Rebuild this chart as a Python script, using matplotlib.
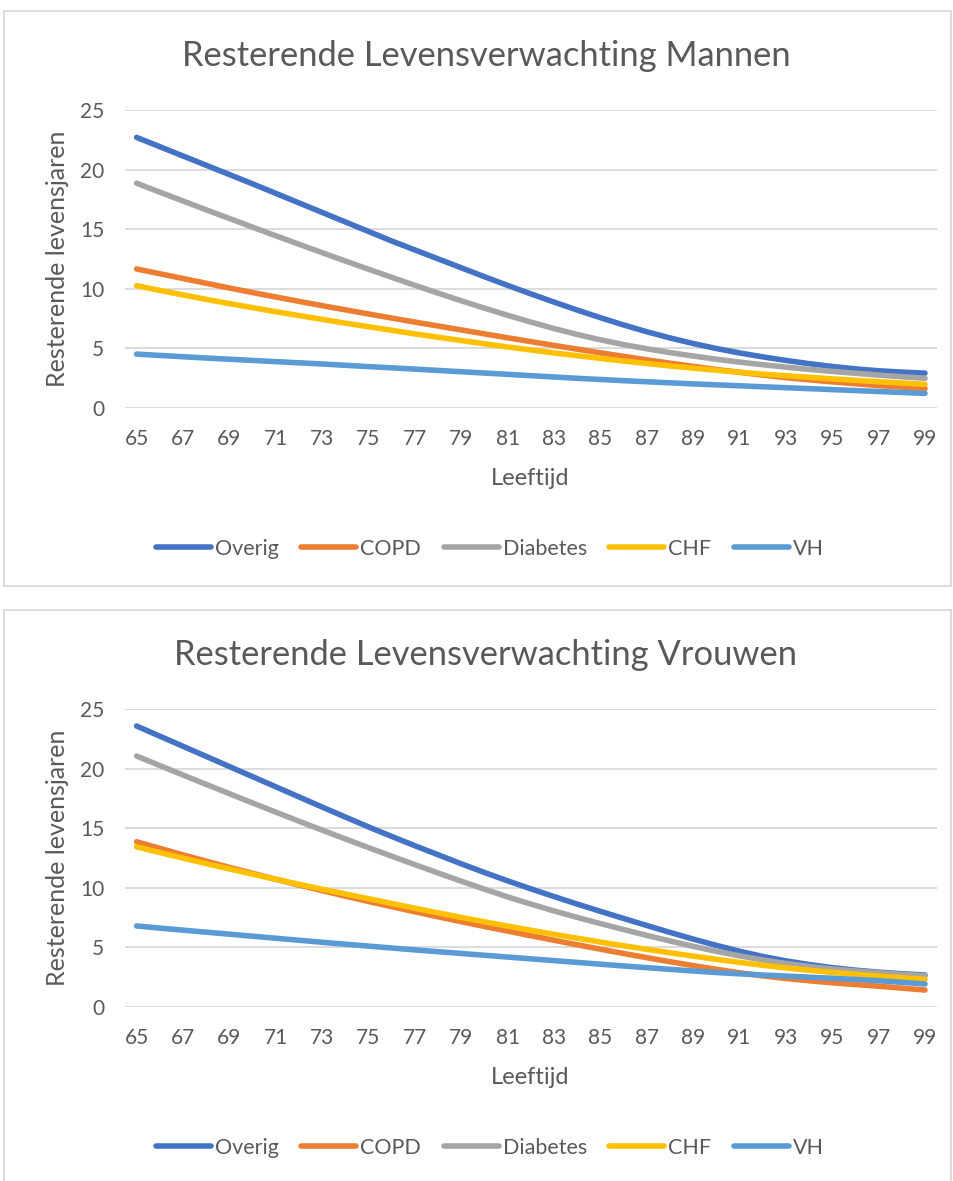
import matplotlib
matplotlib.use("Agg")
import matplotlib.pyplot as plt
from matplotlib.patches import Rectangle

plt.rcParams['font.family'] = ['Lato', 'DejaVu Sans']

# leeftijden 65..99
ages = list(range(65, 100))
series_names = ['Overig', 'COPD', 'Diabetes', 'CHF', 'VH']
series_colors = ['#4472C4', '#ED7D31', '#A5A5A5', '#FFC000', '#5B9BD5']

# Mannen
men_overig = [22.7, 21.92, 21.14, 20.36, 19.58, 18.8, 18.0, 17.2, 16.4, 15.6,
              14.8, 14.0, 13.25, 12.5, 11.75, 11.0, 10.27, 9.56, 8.87, 8.2,
              7.56, 6.95, 6.38, 5.86, 5.39, 4.97, 4.6, 4.27, 3.97, 3.7,
              3.46, 3.26, 3.1, 2.99, 2.9]
men_copd = [11.65, 11.25, 10.85, 10.45, 10.05, 9.67, 9.3, 8.93, 8.57, 8.22,
            7.87, 7.53, 7.19, 6.86, 6.53, 6.2, 5.87, 5.55, 5.23, 4.92,
            4.61, 4.31, 4.02, 3.74, 3.47, 3.21, 2.97, 2.74, 2.53, 2.34,
            2.17, 2.01, 1.86, 1.73, 1.6]
men_diabetes = [18.85, 18.1, 17.36, 16.62, 15.89, 15.16, 14.44, 13.73, 13.02, 12.32,
                11.63, 10.95, 10.28, 9.62, 8.98, 8.36, 7.76, 7.19, 6.65, 6.15,
                5.7, 5.3, 4.95, 4.63, 4.34, 4.07, 3.83, 3.61, 3.41, 3.22,
                3.05, 2.89, 2.74, 2.6, 2.47]
men_chf = [10.25, 9.85, 9.47, 9.1, 8.74, 8.4, 8.06, 7.74, 7.42, 7.1,
           6.8, 6.5, 6.2, 5.92, 5.64, 5.37, 5.1, 4.85, 4.6, 4.37,
           4.14, 3.92, 3.71, 3.51, 3.32, 3.15, 2.98, 2.82, 2.68, 2.55,
           2.42, 2.3, 2.18, 2.07, 1.96]
men_vh = [4.5, 4.39, 4.28, 4.17, 4.07, 3.97, 3.87, 3.77, 3.67, 3.56,
          3.45, 3.35, 3.24, 3.13, 3.02, 2.91, 2.8, 2.69, 2.58, 2.47,
          2.37, 2.27, 2.18, 2.09, 2.0, 1.92, 1.84, 1.76, 1.68, 1.6,
          1.52, 1.44, 1.36, 1.28, 1.2]

# Vrouwen
women_overig = [23.57, 22.72, 21.87, 21.02, 20.17, 19.32, 18.47, 17.62, 16.77, 15.93,
                15.1, 14.3, 13.52, 12.76, 12.0, 11.27, 10.57, 9.9, 9.25, 8.62,
                8.01, 7.41, 6.82, 6.24, 5.68, 5.15, 4.66, 4.22, 3.85, 3.54,
                3.28, 3.07, 2.9, 2.77, 2.66]
women_copd = [13.85, 13.3, 12.75, 12.22, 11.7, 11.2, 10.7, 10.22, 9.75, 9.29,
              8.84, 8.4, 7.97, 7.55, 7.14, 6.74, 6.35, 5.96, 5.58, 5.2,
              4.83, 4.47, 4.12, 3.78, 3.45, 3.14, 2.85, 2.59, 2.37, 2.18,
              2.01, 1.86, 1.72, 1.56, 1.4]
women_diabetes = [21.05, 20.25, 19.46, 18.67, 17.89, 17.11, 16.34, 15.58, 14.83, 14.09,
                  13.36, 12.64, 11.93, 11.23, 10.54, 9.87, 9.22, 8.62, 8.04, 7.5,
                  6.98, 6.48, 5.99, 5.52, 5.07, 4.65, 4.27, 3.93, 3.63, 3.38,
                  3.17, 3.0, 2.85, 2.72, 2.6]
women_chf = [13.43, 12.95, 12.48, 12.02, 11.57, 11.13, 10.7, 10.28, 9.87, 9.47,
             9.07, 8.67, 8.27, 7.88, 7.5, 7.13, 6.77, 6.42, 6.08, 5.75,
             5.43, 5.12, 4.82, 4.53, 4.25, 3.98, 3.72, 3.48, 3.26, 3.06,
             2.88, 2.72, 2.57, 2.43, 2.3]
women_vh = [6.78, 6.6, 6.43, 6.26, 6.09, 5.92, 5.75, 5.58, 5.41, 5.25,
            5.09, 4.93, 4.77, 4.62, 4.47, 4.32, 4.17, 4.02, 3.87, 3.72,
            3.57, 3.42, 3.28, 3.14, 3.0, 2.87, 2.76, 2.66, 2.57, 2.48,
            2.39, 2.29, 2.18, 2.05, 1.91]

W, H = 954, 1181
TEXT = '#595959'
GRID = '#D9D9D9'


def draw_panel(fig, offset, title, data):
    """Draw one Excel-like line chart panel, offset in pixels from the top"""
    # panel border
    top, bottom = 11 + offset, (586 if offset == 0 else 1195)
    fig.patches.append(Rectangle((4 / W, 1 - bottom / H), 947 / W, (bottom - top) / H,
                                 transform=fig.transFigure, fill=False,
                                 edgecolor=GRID, linewidth=1.3))

    ax_top, ax_bot = 110 + offset, 407.7 + offset
    ax = fig.add_axes([125 / W, 1 - ax_bot / H, 811.6 / W, (ax_bot - ax_top) / H])
    for name, color, vals in zip(series_names, series_colors, data):
        ax.plot(ages, vals, color=color, linewidth=4, label=name,
                solid_capstyle='round')

    ax.set_xlim(64.5, 99.5)
    ax.set_ylim(0, 25)
    ax.set_yticks([0, 5, 10, 15, 20, 25])
    ax.set_xticks(ages[::2])
    ax.grid(axis='y', color=GRID, linewidth=1.3)
    ax.set_axisbelow(True)
    for s in ax.spines.values():
        s.set_visible(False)
    ax.tick_params(axis='both', length=0, labelsize=15, labelcolor=TEXT)
    ax.tick_params(axis='x', pad=15)
    ax.tick_params(axis='y', pad=15)

    fig.text(486 / W, 1 - (56 + offset) / H, title, ha='center', va='center',
             fontsize=24.8, color=TEXT)
    fig.text(58 / W, 1 - (259 + offset) / H, 'Resterende levensjaren', rotation=90,
             ha='center', va='center', fontsize=18, color=TEXT)
    fig.text(530 / W, 1 - (478 + offset) / H, 'Leeftijd', ha='center', va='center',
             fontsize=17, color=TEXT)

    leg = fig.legend(*ax.get_legend_handles_labels(), loc='center',
                     bbox_to_anchor=(490 / W, 1 - (549 + offset) / H), ncol=5,
                     frameon=False, fontsize=15.5, handlelength=2.55,
                     handletextpad=0.19, columnspacing=1.05, borderaxespad=0)
    for t in leg.get_texts():
        t.set_color(TEXT)
    return ax


fig = plt.figure(figsize=(W / 100, H / 100), dpi=100)
draw_panel(fig, 0, 'Resterende Levensverwachting Mannen',
           [men_overig, men_copd, men_diabetes, men_chf, men_vh])
draw_panel(fig, 599, 'Resterende Levensverwachting Vrouwen',
           [women_overig, women_copd, women_diabetes, women_chf, women_vh])

plt.savefig('out.png', dpi=100)
plt.close()
